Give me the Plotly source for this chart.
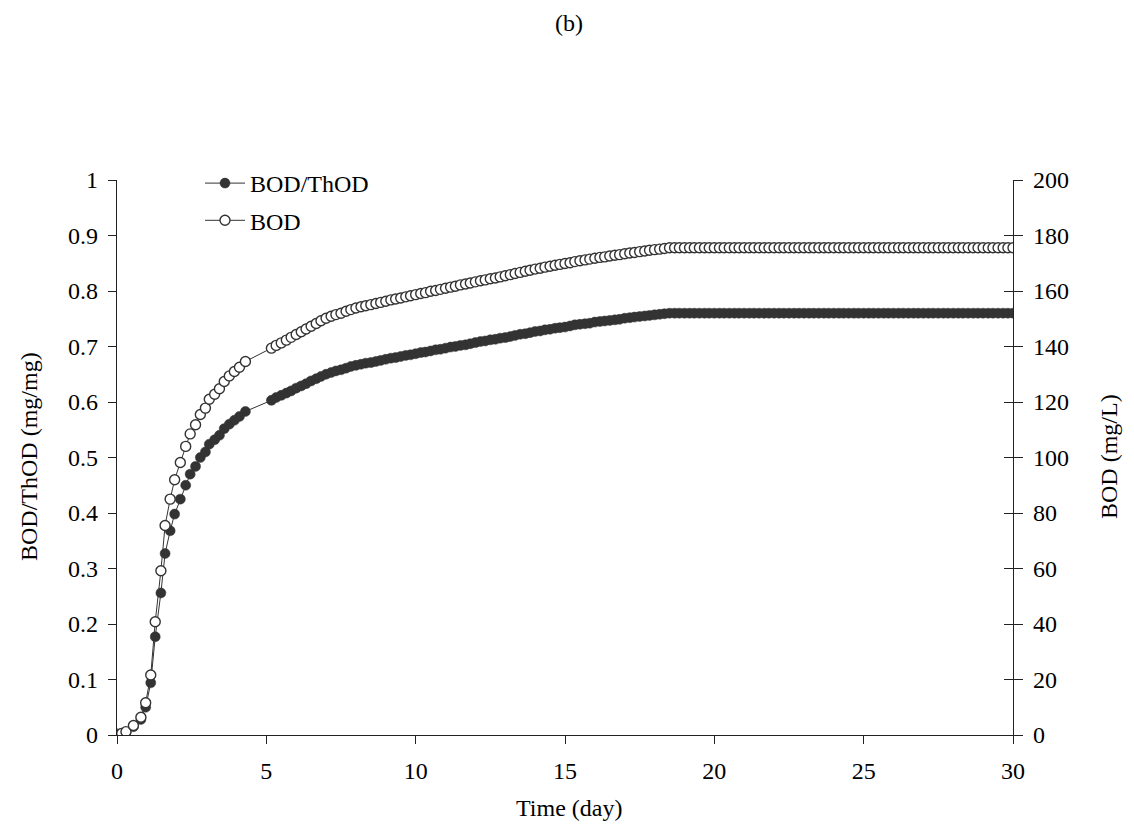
import plotly.graph_objects as go

# Time (day)
time_day = [
    0.00, 0.16, 0.30, 0.55, 0.80, 0.96, 1.13, 1.28, 1.47, 1.61, 1.78, 1.93, 2.12,
    2.30, 2.45, 2.63, 2.79, 2.96, 3.09, 3.27, 3.43, 3.59, 3.76, 3.93, 4.10, 4.30,
    5.17, 5.33, 5.50, 5.67, 5.83, 6.00, 6.17, 6.33, 6.50, 6.67, 6.83, 7.00,
    7.17, 7.33, 7.50, 7.67, 7.83, 8.00, 8.17, 8.33, 8.50, 8.67, 8.83, 9.00,
    9.17, 9.33, 9.50, 9.67, 9.83, 10.00, 10.17, 10.33, 10.50, 10.67, 10.83, 11.00,
    11.17, 11.33, 11.50, 11.67, 11.83, 12.00, 12.17, 12.33, 12.50, 12.67, 12.83, 13.00,
    13.17, 13.33, 13.50, 13.67, 13.83, 14.00, 14.17, 14.33, 14.50, 14.67, 14.83, 15.00,
    15.17, 15.33, 15.50, 15.67, 15.83, 16.00, 16.17, 16.33, 16.50, 16.67, 16.83, 17.00,
    17.17, 17.33, 17.50, 17.67, 17.83, 18.00, 18.17, 18.33,
    18.50, 18.67, 18.83, 19.00, 19.17, 19.33, 19.50, 19.67, 19.83, 20.00,
    20.17, 20.33, 20.50, 20.67, 20.83, 21.00, 21.17, 21.33, 21.50, 21.67, 21.83, 22.00,
    22.17, 22.33, 22.50, 22.67, 22.83, 23.00, 23.17, 23.33, 23.50, 23.67, 23.83, 24.00,
    24.17, 24.33, 24.50, 24.67, 24.83, 25.00, 25.17, 25.33, 25.50, 25.67, 25.83, 26.00,
    26.17, 26.33, 26.50, 26.67, 26.83, 27.00, 27.17, 27.33, 27.50, 27.67, 27.83, 28.00,
    28.17, 28.33, 28.50, 28.67, 28.83, 29.00, 29.17, 29.33, 29.50, 29.67, 29.83, 30.00,
]

# BOD/ThOD (mg/mg), left axis
bod_thod = [
    0.001, 0.003, 0.005, 0.015, 0.028, 0.050, 0.094, 0.177, 0.256, 0.327, 0.368, 0.398, 0.425,
    0.450, 0.470, 0.484, 0.500, 0.510, 0.524, 0.532, 0.540, 0.552, 0.560, 0.567, 0.574, 0.583,
    0.603, 0.608, 0.612, 0.616, 0.620, 0.625, 0.629, 0.633, 0.638, 0.642, 0.646, 0.650,
    0.653, 0.656, 0.658, 0.661, 0.664, 0.666, 0.668, 0.670, 0.671, 0.673, 0.675, 0.677,
    0.679, 0.680, 0.682, 0.684, 0.685, 0.687, 0.689, 0.690, 0.692, 0.694, 0.695, 0.697,
    0.699, 0.700, 0.702, 0.703, 0.705, 0.707, 0.709, 0.710, 0.712, 0.713, 0.715, 0.716,
    0.718, 0.720, 0.722, 0.723, 0.725, 0.727, 0.728, 0.730, 0.731, 0.733, 0.734, 0.735,
    0.737, 0.739, 0.740, 0.741, 0.742, 0.744, 0.745, 0.746, 0.747, 0.748, 0.749, 0.751,
    0.752, 0.753, 0.754, 0.755, 0.756, 0.757, 0.758, 0.759,
    0.760, 0.760, 0.760, 0.760, 0.760, 0.760, 0.760, 0.760, 0.760, 0.760,
    0.760, 0.760, 0.760, 0.760, 0.760, 0.760, 0.760, 0.760, 0.760, 0.760, 0.760, 0.760,
    0.760, 0.760, 0.760, 0.760, 0.760, 0.760, 0.760, 0.760, 0.760, 0.760, 0.760, 0.760,
    0.760, 0.760, 0.760, 0.760, 0.760, 0.760, 0.760, 0.760, 0.760, 0.760, 0.760, 0.760,
    0.760, 0.760, 0.760, 0.760, 0.760, 0.760, 0.760, 0.760, 0.760, 0.760, 0.760, 0.760,
    0.760, 0.760, 0.760, 0.760, 0.760, 0.760, 0.760, 0.760, 0.760, 0.760, 0.760, 0.760,
]

# BOD (mg/L), right axis
bod = [
    0.3, 0.6, 1.2, 3.4, 6.4, 11.6, 21.6, 40.8, 59.2, 75.5, 85.0, 92.0, 98.2,
    104.0, 108.5, 111.8, 115.5, 117.8, 121.0, 122.8, 124.8, 127.4, 129.4, 131.0, 132.5, 134.6,
    139.4, 140.4, 141.3, 142.3, 143.3, 144.3, 145.3, 146.3, 147.3, 148.3, 149.3, 150.2,
    150.9, 151.5, 152.0, 152.7, 153.3, 153.9, 154.3, 154.7, 155.1, 155.5, 155.9, 156.3,
    156.8, 157.1, 157.5, 157.9, 158.3, 158.7, 159.1, 159.4, 159.9, 160.2, 160.6, 161.0,
    161.4, 161.7, 162.2, 162.5, 162.9, 163.3, 163.7, 164.0, 164.4, 164.7, 165.1, 165.5,
    165.9, 166.3, 166.7, 167.1, 167.5, 167.9, 168.2, 168.6, 168.9, 169.3, 169.6, 169.9,
    170.2, 170.6, 170.9, 171.2, 171.5, 171.8, 172.1, 172.3, 172.6, 172.9, 173.1, 173.4,
    173.7, 173.9, 174.2, 174.4, 174.7, 174.9, 175.1, 175.3,
    175.6, 175.6, 175.6, 175.6, 175.6, 175.6, 175.6, 175.6, 175.6, 175.6,
    175.6, 175.6, 175.6, 175.6, 175.6, 175.6, 175.6, 175.6, 175.6, 175.6, 175.6, 175.6,
    175.6, 175.6, 175.6, 175.6, 175.6, 175.6, 175.6, 175.6, 175.6, 175.6, 175.6, 175.6,
    175.6, 175.6, 175.6, 175.6, 175.6, 175.6, 175.6, 175.6, 175.6, 175.6, 175.6, 175.6,
    175.6, 175.6, 175.6, 175.6, 175.6, 175.6, 175.6, 175.6, 175.6, 175.6, 175.6, 175.6,
    175.6, 175.6, 175.6, 175.6, 175.6, 175.6, 175.6, 175.6, 175.6, 175.6, 175.6, 175.6,
]

x_ticks = [0, 5, 10, 15, 20, 25, 30]
left_ticks = [0, 0.1, 0.2, 0.3, 0.4, 0.5, 0.6, 0.7, 0.8, 0.9, 1]
left_tick_text = ["0", "0.1", "0.2", "0.3", "0.4", "0.5", "0.6", "0.7", "0.8", "0.9", "1"]
right_ticks = [0, 20, 40, 60, 80, 100, 120, 140, 160, 180, 200]

FONT = "Liberation Serif, Times New Roman, serif"
INK = "#333333"
AX = "#222222"
FS = 24

W, H = 1134, 825
ML, MR, MT, MB = 109, 129, 172, 98
PW, PH = W - ML - MR, H - MT - MB


def px(xp):
    return (xp - ML) / PW


def py(yp):
    return (H - MB - yp) / PH


fig = go.Figure()
fig.add_trace(go.Scatter(
    x=time_day, y=bod_thod, name="BOD/ThOD", mode="lines+markers",
    legendgroup="a",
    line=dict(color=INK, width=1),
    marker=dict(symbol="circle", size=10, color=INK, line=dict(color=INK, width=0.5)),
    yaxis="y",
))
fig.add_trace(go.Scatter(
    x=time_day, y=bod, name="BOD", mode="lines+markers",
    legendgroup="b",
    line=dict(color=INK, width=1),
    marker=dict(symbol="circle", size=10, color="white", line=dict(color=INK, width=1.4)),
    yaxis="y2",
))
# helper trace so that yaxis3 (inside half of the crossing right-axis ticks) is drawn
fig.add_trace(go.Scatter(x=[0], y=[0], yaxis="y3", mode="markers",
                         marker=dict(opacity=0), showlegend=False, hoverinfo="skip"))

fig.update_layout(
    width=W, height=H,
    margin=dict(l=ML, r=MR, t=MT, b=MB),
    paper_bgcolor="white", plot_bgcolor="white",
    font=dict(family=FONT, size=FS, color="black"),
    showlegend=True,
    legend=dict(x=px(192), y=py(153), xanchor="left", yanchor="top",
                bgcolor="rgba(0,0,0,0)", font=dict(size=FS), tracegroupgap=3,
                itemwidth=40),
    xaxis=dict(range=[0, 30], tickvals=x_ticks, ticks="outside", ticklen=8,
               tickcolor=AX, showline=True, linecolor=AX, linewidth=1.3,
               showgrid=False, zeroline=False, ticklabelstandoff=6),
    yaxis=dict(range=[0, 1], tickvals=left_ticks, ticktext=left_tick_text,
               ticks="outside", ticklen=8, tickcolor=AX, showline=True,
               linecolor=AX, linewidth=1.3, showgrid=False, zeroline=False,
               ticklabelstandoff=5),
    yaxis2=dict(range=[0, 200], tickvals=right_ticks, overlaying="y", side="right",
                ticks="outside", ticklen=9, tickcolor=AX, showline=True,
                linecolor=AX, linewidth=1.3, showgrid=False, zeroline=False,
                ticklabelstandoff=5),
    yaxis3=dict(range=[0, 200], tickvals=right_ticks, overlaying="y", side="right",
                ticks="inside", ticklen=9, tickcolor=AX, showline=False,
                showticklabels=False, showgrid=False, zeroline=False),
    annotations=[
        dict(text="(b)", x=px(561), y=py(15), xref="paper", yref="paper",
             xanchor="center", yanchor="middle", showarrow=False, font=dict(size=FS)),
        dict(text="Time (day)", x=px(561), y=py(800), xref="paper", yref="paper",
             xanchor="center", yanchor="middle", showarrow=False, font=dict(size=FS)),
        dict(text="BOD/ThOD (mg/mg)", x=px(21), y=py(449), xref="paper", yref="paper",
             xanchor="center", yanchor="middle", textangle=-90, showarrow=False,
             font=dict(size=FS)),
        dict(text="BOD (mg/L)", x=px(1101), y=py(449), xref="paper", yref="paper",
             xanchor="center", yanchor="middle", textangle=-90, showarrow=False,
             font=dict(size=FS)),
    ],
)

fig.write_html("out.html")
